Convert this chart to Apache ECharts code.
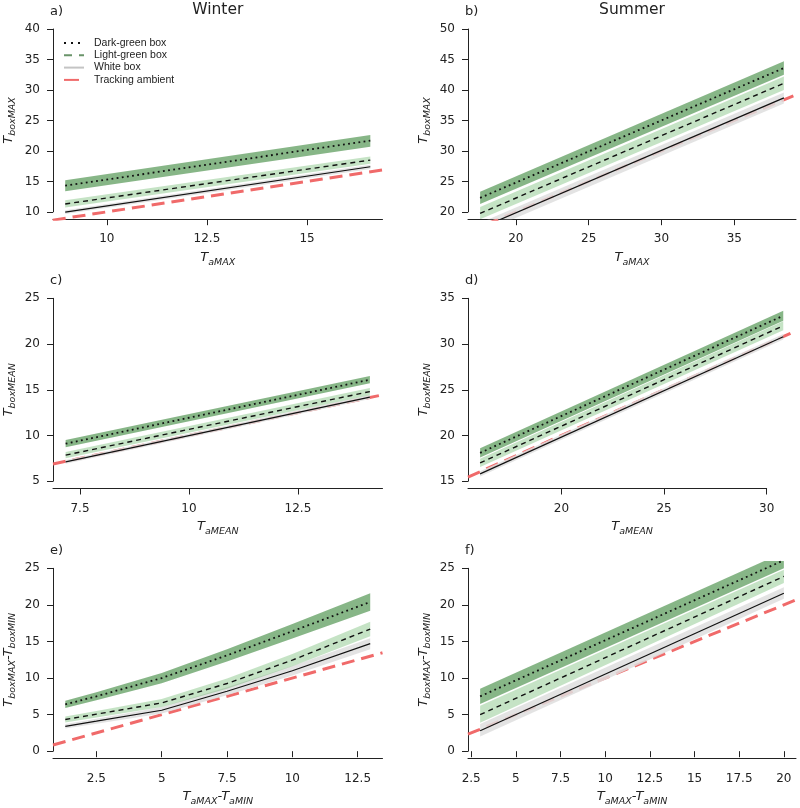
<!DOCTYPE html>
<html><head><meta charset="utf-8">
<script src="https://cdn.jsdelivr.net/npm/echarts@6/dist/echarts.min.js"></script>
<style>html,body{margin:0;padding:0;background:#fff}#c{width:800px;height:808px}</style>
</head><body><div id="c"></div>
<script>
// ---------------- DATA ----------------
// Panel a) Winter, TboxMAX vs TaMAX
const aX = [8.96, 16.58];
const aDark = [14.3, 21.7], aDarkLo = [13.4, 20.7], aDarkHi = [15.2, 22.6];
const aLight = [11.3, 18.5], aLightLo = [10.7, 17.9], aLightHi = [11.9, 19.1];
const aWhite = [9.95, 17.4], aWhiteLo = [9.65, 17.05], aWhiteHi = [10.25, 17.75];
const aTrack = [8.65, 16.9];
const aXRange = [8.655, 16.885], aYRange = [8.8, 41.2];
const aXTicks = [10, 12.5, 15], aYTicks = [10, 15, 20, 25, 30, 35, 40];

// Panel b) Summer, TboxMAX vs TaMAX
const bX = [17.55, 38.4];
const bDark = [22.3, 43.6], bDarkLo = [21.3, 42.5], bDarkHi = [23.3, 44.7];
const bLight = [19.75, 41.1], bLightLo = [18.8, 40.0], bLightHi = [20.8, 42.2];
const bWhite = [17.33, 38.7], bWhiteLo = [16.5, 37.8], bWhiteHi = [18.2, 39.6];
const bTrack = [16.7, 39.25];
const bXRange = [16.72, 39.23], bYRange = [18.8, 51.2];
const bXTicks = [20, 25, 30, 35], bYTicks = [20, 25, 30, 35, 40, 45, 50];

// Panel c) Winter, TboxMEAN vs TaMEAN
const cX = [7.17, 14.15];
const cDark = [9.1, 16.1], cDarkLo = [8.7, 15.7], cDarkHi = [9.5, 16.5];
const cLight = [7.85, 14.8], cLightLo = [7.5, 14.4], cLightHi = [8.2, 15.2];
const cWhite = [7.12, 14.2], cWhiteLo = [6.92, 13.98], cWhiteHi = [7.32, 14.42];
const cTrack = [6.88, 14.45];
const cXRange = [6.88, 14.44], cYRange = [4.2, 25.8];
const cXTicks = [7.5, 10, 12.5], cYTicks = [5, 10, 15, 20, 25];

// Panel d) Summer, TboxMEAN vs TaMEAN
const dX = [16.04, 30.81];
const dDark = [18.1, 33.1], dDarkLo = [17.6, 32.55], dDarkHi = [18.6, 33.65];
const dLight = [17.0, 32.0], dLightLo = [16.55, 31.5], dLightHi = [17.45, 32.5];
const dWhite = [15.8, 30.8], dWhiteLo = [15.52, 30.5], dWhiteHi = [16.08, 31.1];
const dTrack = [15.45, 31.43];
const dXRange = [15.45, 31.43], dYRange = [14.2, 35.8];
const dXTicks = [20, 25, 30], dYTicks = [15, 20, 25, 30, 35];
const dXLineEnd = 30;

// Panel e) Winter, daily range
const eX = [1.31, 2.5, 5, 7.5, 10, 12.98];
const eDark = [6.4, 7.5, 10.0, 13.1, 16.4, 20.4];
const eDarkLo = [5.9, 6.95, 9.3, 12.25, 15.4, 19.2];
const eDarkHi = [6.9, 8.05, 10.7, 13.95, 17.4, 21.6];
const eLight = [4.33, 5.06, 6.6, 9.25, 12.45, 16.7];
const eLightLo = [3.93, 4.6, 6.05, 8.55, 11.6, 15.7];
const eLightHi = [4.73, 5.5, 7.15, 9.95, 13.3, 17.7];
const eWhite = [3.4, 4.1, 5.6, 8.2, 11.0, 14.7];
const eWhiteLo = [3.1, 3.75, 5.15, 7.65, 10.35, 13.95];
const eWhiteHi = [3.7, 4.45, 6.05, 8.75, 11.65, 15.45];
const eTrack = [0.84, 13.45];
const eXRange = [0.84, 13.45], eYRange = [-1, 26];
const eXTicks = [2.5, 5, 7.5, 10, 12.5], eYTicks = [0, 5, 10, 15, 20, 25];

// Panel f) Summer, daily range
const fX = [3.0, 20.0];
const fDark = [7.5, 26.1], fDarkLo = [6.45, 25.0], fDarkHi = [8.55, 27.2];
const fLight = [5.0, 23.9], fLightLo = [3.9, 23.0], fLightHi = [6.2, 24.8];
const fWhite = [2.8, 21.6], fWhiteLo = [2.0, 20.85], fWhiteHi = [3.7, 22.4];
const fTrack = [2.32, 20.68];
const fXRange = [2.32, 20.68], fYRange = [-1, 26];
const fXTicks = [2.5, 5, 7.5, 10, 12.5, 15, 17.5, 20], fYTicks = [0, 5, 10, 15, 20, 25];

const seasons = ['Winter', 'Summer'];
const letters = ['a)', 'b)', 'c)', 'd)', 'e)', 'f)'];
const legendNames = ['Dark-green box', 'Light-green box', 'White box', 'Tracking ambient'];
const xNames = ['{t|T}{s|aMAX}', '{t|T}{s|aMAX}', '{t|T}{s|aMEAN}', '{t|T}{s|aMEAN}',
  '{t|T}{s|aMAX}{t|-T}{s|aMIN}', '{t|T}{s|aMAX}{t|-T}{s|aMIN}'];
const yNames = ['{t|T}{s|boxMAX}', '{t|T}{s|boxMAX}', '{t|T}{s|boxMEAN}', '{t|T}{s|boxMEAN}',
  '{t|T}{s|boxMAX}{t|-T}{s|boxMIN}', '{t|T}{s|boxMAX}{t|-T}{s|boxMIN}'];

const panels = [
  {x:aX, dark:aDark, darkLo:aDarkLo, darkHi:aDarkHi, light:aLight, lightLo:aLightLo, lightHi:aLightHi, white:aWhite, whiteLo:aWhiteLo, whiteHi:aWhiteHi, track:aTrack, xr:aXRange, yr:aYRange, xt:aXTicks, yt:aYTicks},
  {x:bX, dark:bDark, darkLo:bDarkLo, darkHi:bDarkHi, light:bLight, lightLo:bLightLo, lightHi:bLightHi, white:bWhite, whiteLo:bWhiteLo, whiteHi:bWhiteHi, track:bTrack, xr:bXRange, yr:bYRange, xt:bXTicks, yt:bYTicks},
  {x:cX, dark:cDark, darkLo:cDarkLo, darkHi:cDarkHi, light:cLight, lightLo:cLightLo, lightHi:cLightHi, white:cWhite, whiteLo:cWhiteLo, whiteHi:cWhiteHi, track:cTrack, xr:cXRange, yr:cYRange, xt:cXTicks, yt:cYTicks},
  {x:dX, dark:dDark, darkLo:dDarkLo, darkHi:dDarkHi, light:dLight, lightLo:dLightLo, lightHi:dLightHi, white:dWhite, whiteLo:dWhiteLo, whiteHi:dWhiteHi, track:dTrack, xr:dXRange, yr:dYRange, xt:dXTicks, yt:dYTicks, xEnd:dXLineEnd},
  {x:eX, dark:eDark, darkLo:eDarkLo, darkHi:eDarkHi, light:eLight, lightLo:eLightLo, lightHi:eLightHi, white:eWhite, whiteLo:eWhiteLo, whiteHi:eWhiteHi, track:eTrack, xr:eXRange, yr:eYRange, xt:eXTicks, yt:eYTicks},
  {x:fX, dark:fDark, darkLo:fDarkLo, darkHi:fDarkHi, light:fLight, lightLo:fLightLo, lightHi:fLightHi, white:fWhite, whiteLo:fWhiteLo, whiteHi:fWhiteHi, track:fTrack, xr:fXRange, yr:fYRange, xt:fXTicks, yt:fYTicks}
];

// ---------------- LAYOUT & STYLE ----------------
const FONT = 'DejaVu Sans';
const INK = '#222';
const RED = '#f06a6a';
const DARK_BAND = 'rgba(0,100,0,0.47)';
const LIGHT_BAND = 'rgba(40,150,40,0.27)';
const GREY_BAND = 'rgba(222,222,222,0.85)';
const COLS = [{left: 53, width: 329.5}, {left: 468, width: 328}];
const ROWS = [{top: 21.7, height: 197.5}, {top: 291, height: 197.5}, {top: 561, height: 197.5}];

const rich = {
  t: {fontFamily: FONT, fontStyle: 'italic', fontSize: 13, color: INK, lineHeight: 16},
  s: {fontFamily: FONT, fontStyle: 'italic', fontSize: 9.5, color: INK, padding: [9, 0, 0, 0]}
};

const grids = [], xAxes = [], yAxes = [], series = [];
const labelStyle = {fontFamily: FONT, fontSize: 12, color: INK};

panels.forEach((p, i) => {
  const col = COLS[i % 2], row = ROWS[Math.floor(i / 2)];
  const g = i * 3;
  const [x0, x1] = p.xr, [y0, y1] = p.yr;
  grids.push({left: col.left, top: row.top, width: col.width, height: row.height, outerBoundsMode: 'none'});
  const yt = p.yt;
  const topPx = row.top + (y1 - yt[yt.length - 1]) / (y1 - y0) * row.height;
  const botPx = row.top + (y1 - yt[0]) / (y1 - y0) * row.height;
  grids.push({left: col.left, top: topPx, width: col.width, height: botPx - topPx, outerBoundsMode: 'none'});
  const xe = p.xEnd !== undefined ? p.xEnd : x1;
  grids.push({left: col.left, top: row.top, height: row.height, width: (xe - x0) / (x1 - x0) * col.width, outerBoundsMode: 'none'});

  xAxes.push({
    gridIndex: g, type: 'value', min: x0, max: x1,
    axisLine: {show: false},
    axisTick: {show: true, customValues: p.xt, length: 6, lineStyle: {color: INK, width: 1}},
    axisLabel: {show: true, customValues: p.xt, margin: 14, ...labelStyle},
    splitLine: {show: false},
    name: xNames[i], nameLocation: 'middle', nameGap: 29, nameTextStyle: {rich}
  });
  yAxes.push({
    gridIndex: g, type: 'value', min: y0, max: y1,
    axisLine: {show: false}, axisTick: {show: false}, axisLabel: {show: false}, splitLine: {show: false},
    name: yNames[i], nameLocation: 'middle', nameRotate: 90, nameGap: 35, nameTextStyle: {rich}
  });
  xAxes.push({gridIndex: g + 1, type: 'value', show: false, min: 0, max: 1});
  yAxes.push({
    gridIndex: g + 1, type: 'value', min: yt[0], max: yt[yt.length - 1], interval: yt[1] - yt[0],
    axisLine: {show: true, lineStyle: {color: INK, width: 1}},
    axisTick: {show: true, length: 6, lineStyle: {color: INK, width: 1}},
    axisLabel: {show: true, margin: 13, ...labelStyle},
    splitLine: {show: false}
  });
  xAxes.push({
    gridIndex: g + 2, type: 'value', min: x0, max: xe,
    axisLine: {show: true, onZero: false, lineStyle: {color: INK, width: 1}},
    axisTick: {show: false}, axisLabel: {show: false}, splitLine: {show: false}
  });
  yAxes.push({gridIndex: g + 2, type: 'value', show: false, min: 0, max: 1});

  const base = {type: 'line', xAxisIndex: g, yAxisIndex: g, symbol: 'none', silent: true, clip: true, animation: false};
  // tracking ambient: drawn underneath everything
  series.push({...base, z: 1, data: p.track.map(v => [v, v]), lineStyle: {color: RED, width: 3, type: [13, 7]}});
  const band = (lo, hi, color, z) => {
    const rows = p.x.map((x, k) => [x, lo[k], hi[k]]);
    series.push({
      type: 'custom', xAxisIndex: g, yAxisIndex: g, silent: true, animation: false, z: z,
      data: rows, encode: {x: 0, y: [1, 2]},
      renderItem: function (params, api) {
        if (params.dataIndex !== 0) return null;
        const upper = rows.map(r => api.coord([r[0], r[2]]));
        const lower = rows.map(r => api.coord([r[0], r[1]])).reverse();
        const cs = params.coordSys;
        return {
          type: 'polygon', silent: true,
          shape: {points: upper.concat(lower)},
          style: {fill: color, stroke: null},
          clipPath: {type: 'rect', shape: {x: cs.x, y: cs.y, width: cs.width, height: cs.height}}
        };
      }
    });
  };
  band(p.whiteLo, p.whiteHi, GREY_BAND, 3);
  band(p.lightLo, p.lightHi, LIGHT_BAND, 4);
  band(p.darkLo, p.darkHi, DARK_BAND, 5);
  series.push({...base, z: 6, data: p.x.map((x, k) => [x, p.white[k]]), lineStyle: {color: '#111', width: 1.2, type: 'solid'}});
  series.push({...base, z: 6, data: p.x.map((x, k) => [x, p.light[k]]), lineStyle: {color: '#111', width: 1.4, type: [5, 4]}});
  series.push({...base, z: 6, data: p.x.map((x, k) => [x, p.dark[k]]), lineStyle: {color: '#111', width: 1.8, type: [1.8, 3.4]}});
});

const legendStyles = [
  {color: '#111', width: 2.2, type: [2, 5]},
  {color: '#6a946a', width: 2.2, type: [8, 7]},
  {color: '#c4c4c4', width: 2.2, type: 'solid'},
  {color: RED, width: 3.5, type: [15, 40]}
];
legendNames.forEach((n, k) => {
  series.push({type: 'line', name: n, xAxisIndex: 0, yAxisIndex: 0, data: [], symbol: 'none',
    lineStyle: legendStyles[k], itemStyle: {color: legendStyles[k].color}});
});

const titles = [];
seasons.forEach((s, k) => {
  titles.push({text: s, left: COLS[k].left + COLS[k].width / 2, top: 2, textAlign: 'center', padding: 0,
    textStyle: {fontFamily: FONT, fontSize: 15.5, fontWeight: 'normal', color: INK}});
});
letters.forEach((l, i) => {
  const col = COLS[i % 2], row = ROWS[Math.floor(i / 2)];
  titles.push({text: l, left: col.left - 3, top: row.top - 17, padding: 0,
    textStyle: {fontFamily: FONT, fontSize: 13, fontWeight: 'normal', color: INK}});
});

const chart = echarts.init(document.getElementById('c'), null, {renderer: 'canvas'});
chart.setOption({
  animation: false,
  backgroundColor: '#fff',
  title: titles,
  legend: {
    orient: 'vertical', left: 63, top: 37, padding: 0, itemWidth: 20, itemHeight: 10, itemGap: 0.3,
    selectedMode: false, data: legendNames,
    itemStyle: {opacity: 0},
    textStyle: {fontFamily: 'Liberation Sans', fontSize: 10.5, color: INK, padding: [0, 0, 0, 5], lineHeight: 12}
  },
  grid: grids, xAxis: xAxes, yAxis: yAxes, series: series
});
</script></body></html>
